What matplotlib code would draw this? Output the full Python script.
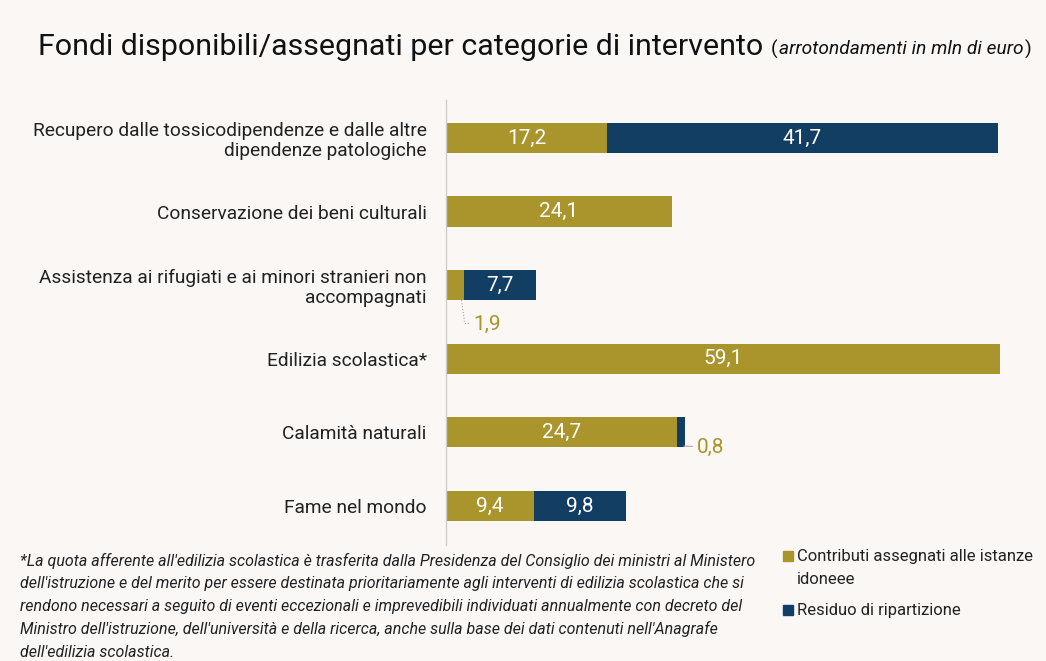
import numpy as np
import matplotlib.pyplot as plt

categorie = ['Recupero dalle tossicodipendenze e dalle altre\ndipendenze patologiche',
             'Conservazione dei beni culturali',
             'Assistenza ai rifugiati e ai minori stranieri non\naccompagnati',
             'Edilizia scolastica*',
             'Calamità naturali',
             'Fame nel mondo']
assegnati = [17.2, 24.1, 1.9, 59.1, 24.7, 9.4]
residuo = [41.7, 0.0, 7.7, 0.0, 0.8, 9.8]

serie_nomi = ['Contributi assegnati alle istanze\nidoneee', 'Residuo di ripartizione']

titolo = 'Fondi disponibili/assegnati per categorie di intervento'
sottotitolo = 'arrotondamenti in mln di euro'
nota = ["*La quota afferente all'edilizia scolastica è trasferita dalla Presidenza del Consiglio dei ministri al Ministero",
        "dell'istruzione e del merito per essere destinata prioritariamente agli interventi di edilizia scolastica che si",
        "rendono necessari a seguito di eventi eccezionali e imprevedibili individuati annualmente con decreto del",
        "Ministro dell'istruzione, dell'università e della ricerca, anche sulla base dei dati contenuti nell'Anagrafe",
        "dell'edilizia scolastica."]

GOLD = '#a9952c'
NAVY = '#123e64'
BG = '#faf7f5'
TXT = '#222222'

plt.rcParams['font.family'] = ['Roboto', 'DejaVu Sans']

W, H = 1046, 661
fig = plt.figure(figsize=(W / 100, H / 100), dpi=100, facecolor=BG)


def fit(txt, width_px):
    # shrink/grow a text so it spans the given pixel width
    fig.canvas.draw()
    w = txt.get_window_extent().width
    txt.set_fontsize(txt.get_fontsize() * width_px / w)
    fig.canvas.draw()
    return txt.get_window_extent()


# axes placed in pixel coordinates
left, right, top, bottom = 446, 1008, 100, 545
ax = fig.add_axes([left / W, 1 - bottom / H, (right - left) / W, (bottom - top) / H])
ax.set_facecolor(BG)

y = np.arange(len(categorie))
h = 0.41
ax.barh(y, assegnati, height=h, color=GOLD)
ax.barh(y, residuo, left=assegnati, height=h, color=NAVY)

ax.set_xlim(0, 60)
ax.set_ylim(5.53, -0.516)
ax.set_yticks(y)
ax.set_yticklabels(categorie, fontsize=13.8, color=TXT, ha='right', linespacing=1.15)
ax.tick_params(axis='y', length=0, pad=14)
ax.set_xticks([])
for s in ['top', 'right', 'bottom']:
    ax.spines[s].set_visible(False)
ax.spines['left'].set_color('#d0cccc')
ax.spines['left'].set_linewidth(1)

fmt = lambda v: ('%.1f' % v).replace('.', ',')

for i in range(len(categorie)):
    a, r = assegnati[i], residuo[i]
    if a >= 5:
        ax.text(a / 2, i, fmt(a), ha='center', va='center', color='white', fontsize=15)
    if r >= 5:
        ax.text(a + r / 2, i, fmt(r), ha='center', va='center', color='white', fontsize=15)

# small values outside the bars with leader lines
i = 2
ax.plot([1.65, 2.0, 2.5], [i + h / 2, i + 0.52, i + 0.52], color='#aaaaaa', lw=0.8, ls=':')
ax.text(2.9, i + 0.53, fmt(assegnati[i]), ha='left', va='center', color=GOLD, fontsize=15)
i = 4
xe = assegnati[i] + residuo[i]
ax.plot([xe - 0.1, xe + 0.5, xe + 0.8], [i + h / 2 - 0.02, i + 0.19, i + 0.19], color='#aaaaaa', lw=0.8)
ax.text(xe + 1.3, i + 0.2, fmt(residuo[i]), ha='left', va='center', color=GOLD, fontsize=15)

# title
t = fig.text(38 / W, 1 - 47 / H, titolo, fontsize=22, color='#111111', ha='left', va='center')
bb = fit(t, 724)
x0 = bb.x1 + 8
p1 = fig.text(x0 / W, 1 - 49 / H, '(', fontsize=14, color='#111111', va='center')
fig.canvas.draw()
x0 = p1.get_window_extent().x1 + 1
s = fig.text(x0 / W, 1 - 49 / H, sottotitolo, fontsize=14, style='italic', color='#111111', va='center')
fit(s, 1032 - 8 - x0)
x0 = s.get_window_extent().x1 + 1
fig.text(x0 / W, 1 - 49 / H, ')', fontsize=14, color='#111111', va='center')

# footnote
r0 = fig.text(20 / W, 1 - 561 / H, nota[0], fontsize=11, style='italic', color=TXT, ha='left', va='center')
fit(r0, 737)
for k, riga in enumerate(nota[1:], start=1):
    fig.text(20 / W, 1 - (561 + 22.8 * k) / H, riga, fontsize=r0.get_fontsize(), style='italic',
             color=TXT, ha='left', va='center')

# legend
for nome, col, yy in zip(serie_nomi, [GOLD, NAVY], [556, 610]):
    fig.patches.append(plt.Rectangle((783 / W, 1 - (yy + 5) / H), 10 / W, 10 / H,
                                     transform=fig.transFigure, color=col))
    for j, riga in enumerate(nome.split('\n')):
        fig.text(797 / W, 1 - (yy + 23 * j) / H, riga, fontsize=12.0, color=TXT, ha='left', va='center')

fig.savefig('out.png', dpi=100, facecolor=BG)
